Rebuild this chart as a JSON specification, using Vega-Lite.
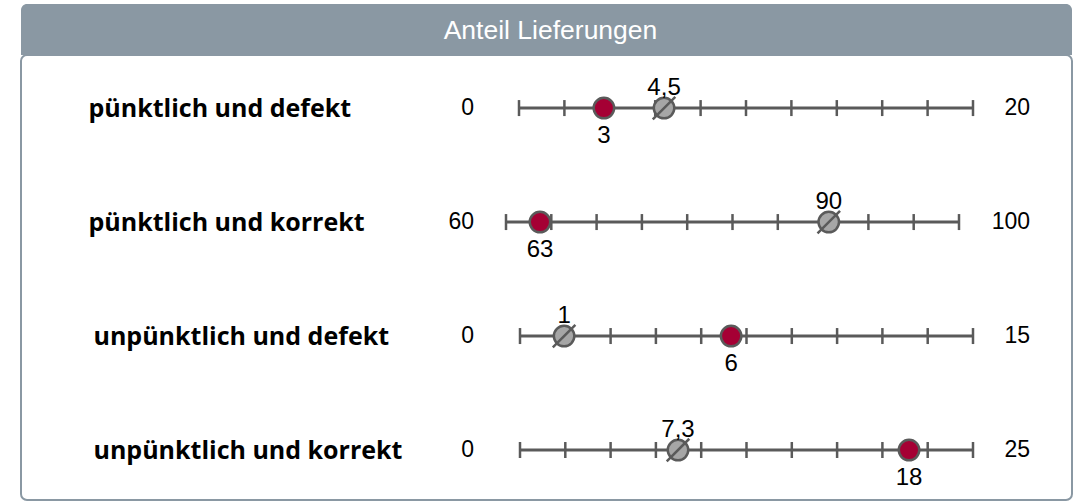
{
  "$schema": "https://vega.github.io/schema/vega-lite/v6.json",
  "background": "white",
  "padding": {"left": 20, "top": 4, "right": 20, "bottom": 3},
  "spacing": 0,
  "bounds": "flush",
  "config": {"font": "Liberation Sans"},
  "datasets": {
    "rows": [
      {"label": "pünktlich und defekt", "min": 0, "max": 20},
      {"label": "pünktlich und korrekt", "min": 60, "max": 100},
      {"label": "unpünktlich und defekt", "min": 0, "max": 15},
      {"label": "unpünktlich und korrekt", "min": 0, "max": 25}
    ],
    "ticks": [
      {"label": "pünktlich und defekt", "t": 0}, {"label": "pünktlich und defekt", "t": 2}, {"label": "pünktlich und defekt", "t": 4}, {"label": "pünktlich und defekt", "t": 6}, {"label": "pünktlich und defekt", "t": 8}, {"label": "pünktlich und defekt", "t": 10}, {"label": "pünktlich und defekt", "t": 12}, {"label": "pünktlich und defekt", "t": 14}, {"label": "pünktlich und defekt", "t": 16}, {"label": "pünktlich und defekt", "t": 18}, {"label": "pünktlich und defekt", "t": 20},
      {"label": "pünktlich und korrekt", "t": 60}, {"label": "pünktlich und korrekt", "t": 64}, {"label": "pünktlich und korrekt", "t": 68}, {"label": "pünktlich und korrekt", "t": 72}, {"label": "pünktlich und korrekt", "t": 76}, {"label": "pünktlich und korrekt", "t": 80}, {"label": "pünktlich und korrekt", "t": 84}, {"label": "pünktlich und korrekt", "t": 88}, {"label": "pünktlich und korrekt", "t": 92}, {"label": "pünktlich und korrekt", "t": 96}, {"label": "pünktlich und korrekt", "t": 100},
      {"label": "unpünktlich und defekt", "t": 0}, {"label": "unpünktlich und defekt", "t": 1.5}, {"label": "unpünktlich und defekt", "t": 3}, {"label": "unpünktlich und defekt", "t": 4.5}, {"label": "unpünktlich und defekt", "t": 6}, {"label": "unpünktlich und defekt", "t": 7.5}, {"label": "unpünktlich und defekt", "t": 9}, {"label": "unpünktlich und defekt", "t": 10.5}, {"label": "unpünktlich und defekt", "t": 12}, {"label": "unpünktlich und defekt", "t": 13.5}, {"label": "unpünktlich und defekt", "t": 15},
      {"label": "unpünktlich und korrekt", "t": 0}, {"label": "unpünktlich und korrekt", "t": 2.5}, {"label": "unpünktlich und korrekt", "t": 5}, {"label": "unpünktlich und korrekt", "t": 7.5}, {"label": "unpünktlich und korrekt", "t": 10}, {"label": "unpünktlich und korrekt", "t": 12.5}, {"label": "unpünktlich und korrekt", "t": 15}, {"label": "unpünktlich und korrekt", "t": 17.5}, {"label": "unpünktlich und korrekt", "t": 20}, {"label": "unpünktlich und korrekt", "t": 22.5}, {"label": "unpünktlich und korrekt", "t": 25}
    ],
    "dots": [
      {"label": "pünktlich und defekt", "kind": "Ist", "pos": 3.74, "text": "3"},
      {"label": "pünktlich und defekt", "kind": "Ø", "pos": 6.39, "text": "4,5"},
      {"label": "pünktlich und korrekt", "kind": "Ist", "pos": 63.0, "text": "63"},
      {"label": "pünktlich und korrekt", "kind": "Ø", "pos": 88.5, "text": "90"},
      {"label": "unpünktlich und defekt", "kind": "Ø", "pos": 1.46, "text": "1"},
      {"label": "unpünktlich und defekt", "kind": "Ist", "pos": 6.99, "text": "6"},
      {"label": "unpünktlich und korrekt", "kind": "Ø", "pos": 8.72, "text": "7,3"},
      {"label": "unpünktlich und korrekt", "kind": "Ist", "pos": 21.47, "text": "18"}
    ]
  },
  "vconcat": [
    {
      "width": 1051,
      "height": 51,
      "data": {"values": [{}]},
      "view": {"stroke": null},
      "layer": [
        {"mark": {"type": "rect", "color": "#8a98a3", "cornerRadiusTopLeft": 6, "cornerRadiusTopRight": 6}, "encoding": {}},
        {"mark": {"type": "text", "color": "white", "fontSize": 26.5, "font": "Liberation Sans", "baseline": "middle", "dy": 1, "dx": 4}, "encoding": {"text": {"value": "Anteil Lieferungen"}}}
      ]
    },
    {
      "width": 1051,
      "height": 445,
      "view": {"stroke": "#8a98a3", "strokeWidth": 2, "cornerRadius": 6},
      "encoding": {
        "y": {
          "field": "label", "type": "nominal",
          "scale": {"type": "point", "domain": ["pünktlich und defekt", "pünktlich und korrekt", "unpünktlich und defekt", "unpünktlich und korrekt"], "padding": 0.452, "align": 0.515},
          "axis": {"title": null, "domain": false, "ticks": false, "grid": false, "labelAlign": "left", "labelBaseline": "middle", "labelPadding": {"condition": {"test": "indexof(datum.value, 'unp') === 0", "value": -72}, "value": -67}, "labelFont": "Open Sans", "labelFontWeight": "bold", "labelFontSize": 25, "labelColor": "#000000", "labelLimit": 0}
        }
      },
      "resolve": {"scale": {"x": "independent"}, "axis": {"x": "independent"}},
      "layer": [
        {
          "layer": [
            {"data": {"name": "rows"}, "transform": [{"filter": "datum.label === 'pünktlich und defekt'"}], "mark": {"type": "rule", "color": "#5a5a5a", "strokeWidth": 3}, "encoding": {"x": {"field": "min", "type": "quantitative", "scale": {"domain": [0, 20], "range": [498, 952], "zero": false, "nice": false}, "axis": null}, "x2": {"field": "max"}}},
            {"data": {"name": "ticks"}, "transform": [{"filter": "datum.label === 'pünktlich und defekt'"}], "mark": {"type": "tick", "orient": "vertical", "size": 16, "thickness": 2.5, "color": "#5a5a5a", "opacity": 1}, "encoding": {"x": {"field": "t", "type": "quantitative", "scale": {"domain": [0, 20], "range": [498, 952], "zero": false, "nice": false}, "axis": null}}},
            {"data": {"name": "rows"}, "transform": [{"filter": "datum.label === 'pünktlich und defekt'"}], "mark": {"type": "text", "align": "right", "baseline": "middle", "dx": -45, "fontSize": 23, "color": "#000000"}, "encoding": {"x": {"field": "min", "type": "quantitative", "scale": {"domain": [0, 20], "range": [498, 952], "zero": false, "nice": false}, "axis": null}, "text": {"field": "min"}}},
            {"data": {"name": "rows"}, "transform": [{"filter": "datum.label === 'pünktlich und defekt'"}], "mark": {"type": "text", "align": "right", "baseline": "middle", "dx": 57, "fontSize": 23, "color": "#000000"}, "encoding": {"x": {"field": "max", "type": "quantitative", "scale": {"domain": [0, 20], "range": [498, 952], "zero": false, "nice": false}, "axis": null}, "text": {"field": "max"}}},
            {"data": {"name": "dots"}, "transform": [{"filter": "datum.label === 'pünktlich und defekt'"}], "mark": {"type": "point", "shape": "circle", "filled": true, "size": 420, "stroke": "#5a5a5a", "strokeWidth": 2.5, "opacity": 1}, "encoding": {"x": {"field": "pos", "type": "quantitative", "scale": {"domain": [0, 20], "range": [498, 952], "zero": false, "nice": false}, "axis": null}, "fill": {"field": "kind", "type": "nominal", "scale": {"domain": ["Ist", "Ø"], "range": ["#a50034", "#a6a6a6"]}, "legend": null}}},
            {"data": {"name": "dots"}, "transform": [{"filter": "datum.label === 'pünktlich und defekt' && datum.kind === 'Ø'"}], "mark": {"type": "point", "shape": "M -1.1 1.1 L 1.1 -1.1", "filled": false, "size": 420, "stroke": "#5a5a5a", "strokeWidth": 2.5, "opacity": 1}, "encoding": {"x": {"field": "pos", "type": "quantitative", "scale": {"domain": [0, 20], "range": [498, 952], "zero": false, "nice": false}, "axis": null}}},
            {"data": {"name": "dots"}, "transform": [{"filter": "datum.label === 'pünktlich und defekt' && datum.kind === 'Ø'"}], "mark": {"type": "text", "baseline": "middle", "dy": -20, "fontSize": 24, "color": "#000000"}, "encoding": {"x": {"field": "pos", "type": "quantitative", "scale": {"domain": [0, 20], "range": [498, 952], "zero": false, "nice": false}, "axis": null}, "text": {"field": "text"}}},
            {"data": {"name": "dots"}, "transform": [{"filter": "datum.label === 'pünktlich und defekt' && datum.kind === 'Ist'"}], "mark": {"type": "text", "baseline": "middle", "dy": 28, "fontSize": 24, "color": "#000000"}, "encoding": {"x": {"field": "pos", "type": "quantitative", "scale": {"domain": [0, 20], "range": [498, 952], "zero": false, "nice": false}, "axis": null}, "text": {"field": "text"}}}
          ]
        },
        {
          "layer": [
            {"data": {"name": "rows"}, "transform": [{"filter": "datum.label === 'pünktlich und korrekt'"}], "mark": {"type": "rule", "color": "#5a5a5a", "strokeWidth": 3}, "encoding": {"x": {"field": "min", "type": "quantitative", "scale": {"domain": [60, 100], "range": [485, 938], "zero": false, "nice": false}, "axis": null}, "x2": {"field": "max"}}},
            {"data": {"name": "ticks"}, "transform": [{"filter": "datum.label === 'pünktlich und korrekt'"}], "mark": {"type": "tick", "orient": "vertical", "size": 16, "thickness": 2.5, "color": "#5a5a5a", "opacity": 1}, "encoding": {"x": {"field": "t", "type": "quantitative", "scale": {"domain": [60, 100], "range": [485, 938], "zero": false, "nice": false}, "axis": null}}},
            {"data": {"name": "rows"}, "transform": [{"filter": "datum.label === 'pünktlich und korrekt'"}], "mark": {"type": "text", "align": "right", "baseline": "middle", "dx": -32, "fontSize": 23, "color": "#000000"}, "encoding": {"x": {"field": "min", "type": "quantitative", "scale": {"domain": [60, 100], "range": [485, 938], "zero": false, "nice": false}, "axis": null}, "text": {"field": "min"}}},
            {"data": {"name": "rows"}, "transform": [{"filter": "datum.label === 'pünktlich und korrekt'"}], "mark": {"type": "text", "align": "right", "baseline": "middle", "dx": 71, "fontSize": 23, "color": "#000000"}, "encoding": {"x": {"field": "max", "type": "quantitative", "scale": {"domain": [60, 100], "range": [485, 938], "zero": false, "nice": false}, "axis": null}, "text": {"field": "max"}}},
            {"data": {"name": "dots"}, "transform": [{"filter": "datum.label === 'pünktlich und korrekt'"}], "mark": {"type": "point", "shape": "circle", "filled": true, "size": 420, "stroke": "#5a5a5a", "strokeWidth": 2.5, "opacity": 1}, "encoding": {"x": {"field": "pos", "type": "quantitative", "scale": {"domain": [60, 100], "range": [485, 938], "zero": false, "nice": false}, "axis": null}, "fill": {"field": "kind", "type": "nominal", "scale": {"domain": ["Ist", "Ø"], "range": ["#a50034", "#a6a6a6"]}, "legend": null}}},
            {"data": {"name": "dots"}, "transform": [{"filter": "datum.label === 'pünktlich und korrekt' && datum.kind === 'Ø'"}], "mark": {"type": "point", "shape": "M -1.1 1.1 L 1.1 -1.1", "filled": false, "size": 420, "stroke": "#5a5a5a", "strokeWidth": 2.5, "opacity": 1}, "encoding": {"x": {"field": "pos", "type": "quantitative", "scale": {"domain": [60, 100], "range": [485, 938], "zero": false, "nice": false}, "axis": null}}},
            {"data": {"name": "dots"}, "transform": [{"filter": "datum.label === 'pünktlich und korrekt' && datum.kind === 'Ø'"}], "mark": {"type": "text", "baseline": "middle", "dy": -20, "fontSize": 24, "color": "#000000"}, "encoding": {"x": {"field": "pos", "type": "quantitative", "scale": {"domain": [60, 100], "range": [485, 938], "zero": false, "nice": false}, "axis": null}, "text": {"field": "text"}}},
            {"data": {"name": "dots"}, "transform": [{"filter": "datum.label === 'pünktlich und korrekt' && datum.kind === 'Ist'"}], "mark": {"type": "text", "baseline": "middle", "dy": 28, "fontSize": 24, "color": "#000000"}, "encoding": {"x": {"field": "pos", "type": "quantitative", "scale": {"domain": [60, 100], "range": [485, 938], "zero": false, "nice": false}, "axis": null}, "text": {"field": "text"}}}
          ]
        },
        {
          "layer": [
            {"data": {"name": "rows"}, "transform": [{"filter": "datum.label === 'unpünktlich und defekt'"}], "mark": {"type": "rule", "color": "#5a5a5a", "strokeWidth": 3}, "encoding": {"x": {"field": "min", "type": "quantitative", "scale": {"domain": [0, 15], "range": [499, 952], "zero": false, "nice": false}, "axis": null}, "x2": {"field": "max"}}},
            {"data": {"name": "ticks"}, "transform": [{"filter": "datum.label === 'unpünktlich und defekt'"}], "mark": {"type": "tick", "orient": "vertical", "size": 16, "thickness": 2.5, "color": "#5a5a5a", "opacity": 1}, "encoding": {"x": {"field": "t", "type": "quantitative", "scale": {"domain": [0, 15], "range": [499, 952], "zero": false, "nice": false}, "axis": null}}},
            {"data": {"name": "rows"}, "transform": [{"filter": "datum.label === 'unpünktlich und defekt'"}], "mark": {"type": "text", "align": "right", "baseline": "middle", "dx": -46, "fontSize": 23, "color": "#000000"}, "encoding": {"x": {"field": "min", "type": "quantitative", "scale": {"domain": [0, 15], "range": [499, 952], "zero": false, "nice": false}, "axis": null}, "text": {"field": "min"}}},
            {"data": {"name": "rows"}, "transform": [{"filter": "datum.label === 'unpünktlich und defekt'"}], "mark": {"type": "text", "align": "right", "baseline": "middle", "dx": 57, "fontSize": 23, "color": "#000000"}, "encoding": {"x": {"field": "max", "type": "quantitative", "scale": {"domain": [0, 15], "range": [499, 952], "zero": false, "nice": false}, "axis": null}, "text": {"field": "max"}}},
            {"data": {"name": "dots"}, "transform": [{"filter": "datum.label === 'unpünktlich und defekt'"}], "mark": {"type": "point", "shape": "circle", "filled": true, "size": 420, "stroke": "#5a5a5a", "strokeWidth": 2.5, "opacity": 1}, "encoding": {"x": {"field": "pos", "type": "quantitative", "scale": {"domain": [0, 15], "range": [499, 952], "zero": false, "nice": false}, "axis": null}, "fill": {"field": "kind", "type": "nominal", "scale": {"domain": ["Ist", "Ø"], "range": ["#a50034", "#a6a6a6"]}, "legend": null}}},
            {"data": {"name": "dots"}, "transform": [{"filter": "datum.label === 'unpünktlich und defekt' && datum.kind === 'Ø'"}], "mark": {"type": "point", "shape": "M -1.1 1.1 L 1.1 -1.1", "filled": false, "size": 420, "stroke": "#5a5a5a", "strokeWidth": 2.5, "opacity": 1}, "encoding": {"x": {"field": "pos", "type": "quantitative", "scale": {"domain": [0, 15], "range": [499, 952], "zero": false, "nice": false}, "axis": null}}},
            {"data": {"name": "dots"}, "transform": [{"filter": "datum.label === 'unpünktlich und defekt' && datum.kind === 'Ø'"}], "mark": {"type": "text", "baseline": "middle", "dy": -20, "fontSize": 24, "color": "#000000"}, "encoding": {"x": {"field": "pos", "type": "quantitative", "scale": {"domain": [0, 15], "range": [499, 952], "zero": false, "nice": false}, "axis": null}, "text": {"field": "text"}}},
            {"data": {"name": "dots"}, "transform": [{"filter": "datum.label === 'unpünktlich und defekt' && datum.kind === 'Ist'"}], "mark": {"type": "text", "baseline": "middle", "dy": 28, "fontSize": 24, "color": "#000000"}, "encoding": {"x": {"field": "pos", "type": "quantitative", "scale": {"domain": [0, 15], "range": [499, 952], "zero": false, "nice": false}, "axis": null}, "text": {"field": "text"}}}
          ]
        },
        {
          "layer": [
            {"data": {"name": "rows"}, "transform": [{"filter": "datum.label === 'unpünktlich und korrekt'"}], "mark": {"type": "rule", "color": "#5a5a5a", "strokeWidth": 3}, "encoding": {"x": {"field": "min", "type": "quantitative", "scale": {"domain": [0, 25], "range": [499, 952], "zero": false, "nice": false}, "axis": null}, "x2": {"field": "max"}}},
            {"data": {"name": "ticks"}, "transform": [{"filter": "datum.label === 'unpünktlich und korrekt'"}], "mark": {"type": "tick", "orient": "vertical", "size": 16, "thickness": 2.5, "color": "#5a5a5a", "opacity": 1}, "encoding": {"x": {"field": "t", "type": "quantitative", "scale": {"domain": [0, 25], "range": [499, 952], "zero": false, "nice": false}, "axis": null}}},
            {"data": {"name": "rows"}, "transform": [{"filter": "datum.label === 'unpünktlich und korrekt'"}], "mark": {"type": "text", "align": "right", "baseline": "middle", "dx": -46, "fontSize": 23, "color": "#000000"}, "encoding": {"x": {"field": "min", "type": "quantitative", "scale": {"domain": [0, 25], "range": [499, 952], "zero": false, "nice": false}, "axis": null}, "text": {"field": "min"}}},
            {"data": {"name": "rows"}, "transform": [{"filter": "datum.label === 'unpünktlich und korrekt'"}], "mark": {"type": "text", "align": "right", "baseline": "middle", "dx": 57, "fontSize": 23, "color": "#000000"}, "encoding": {"x": {"field": "max", "type": "quantitative", "scale": {"domain": [0, 25], "range": [499, 952], "zero": false, "nice": false}, "axis": null}, "text": {"field": "max"}}},
            {"data": {"name": "dots"}, "transform": [{"filter": "datum.label === 'unpünktlich und korrekt'"}], "mark": {"type": "point", "shape": "circle", "filled": true, "size": 420, "stroke": "#5a5a5a", "strokeWidth": 2.5, "opacity": 1}, "encoding": {"x": {"field": "pos", "type": "quantitative", "scale": {"domain": [0, 25], "range": [499, 952], "zero": false, "nice": false}, "axis": null}, "fill": {"field": "kind", "type": "nominal", "scale": {"domain": ["Ist", "Ø"], "range": ["#a50034", "#a6a6a6"]}, "legend": null}}},
            {"data": {"name": "dots"}, "transform": [{"filter": "datum.label === 'unpünktlich und korrekt' && datum.kind === 'Ø'"}], "mark": {"type": "point", "shape": "M -1.1 1.1 L 1.1 -1.1", "filled": false, "size": 420, "stroke": "#5a5a5a", "strokeWidth": 2.5, "opacity": 1}, "encoding": {"x": {"field": "pos", "type": "quantitative", "scale": {"domain": [0, 25], "range": [499, 952], "zero": false, "nice": false}, "axis": null}}},
            {"data": {"name": "dots"}, "transform": [{"filter": "datum.label === 'unpünktlich und korrekt' && datum.kind === 'Ø'"}], "mark": {"type": "text", "baseline": "middle", "dy": -20, "fontSize": 24, "color": "#000000"}, "encoding": {"x": {"field": "pos", "type": "quantitative", "scale": {"domain": [0, 25], "range": [499, 952], "zero": false, "nice": false}, "axis": null}, "text": {"field": "text"}}},
            {"data": {"name": "dots"}, "transform": [{"filter": "datum.label === 'unpünktlich und korrekt' && datum.kind === 'Ist'"}], "mark": {"type": "text", "baseline": "middle", "dy": 28, "fontSize": 24, "color": "#000000"}, "encoding": {"x": {"field": "pos", "type": "quantitative", "scale": {"domain": [0, 25], "range": [499, 952], "zero": false, "nice": false}, "axis": null}, "text": {"field": "text"}}}
          ]
        }
      ]
    }
  ]
}
